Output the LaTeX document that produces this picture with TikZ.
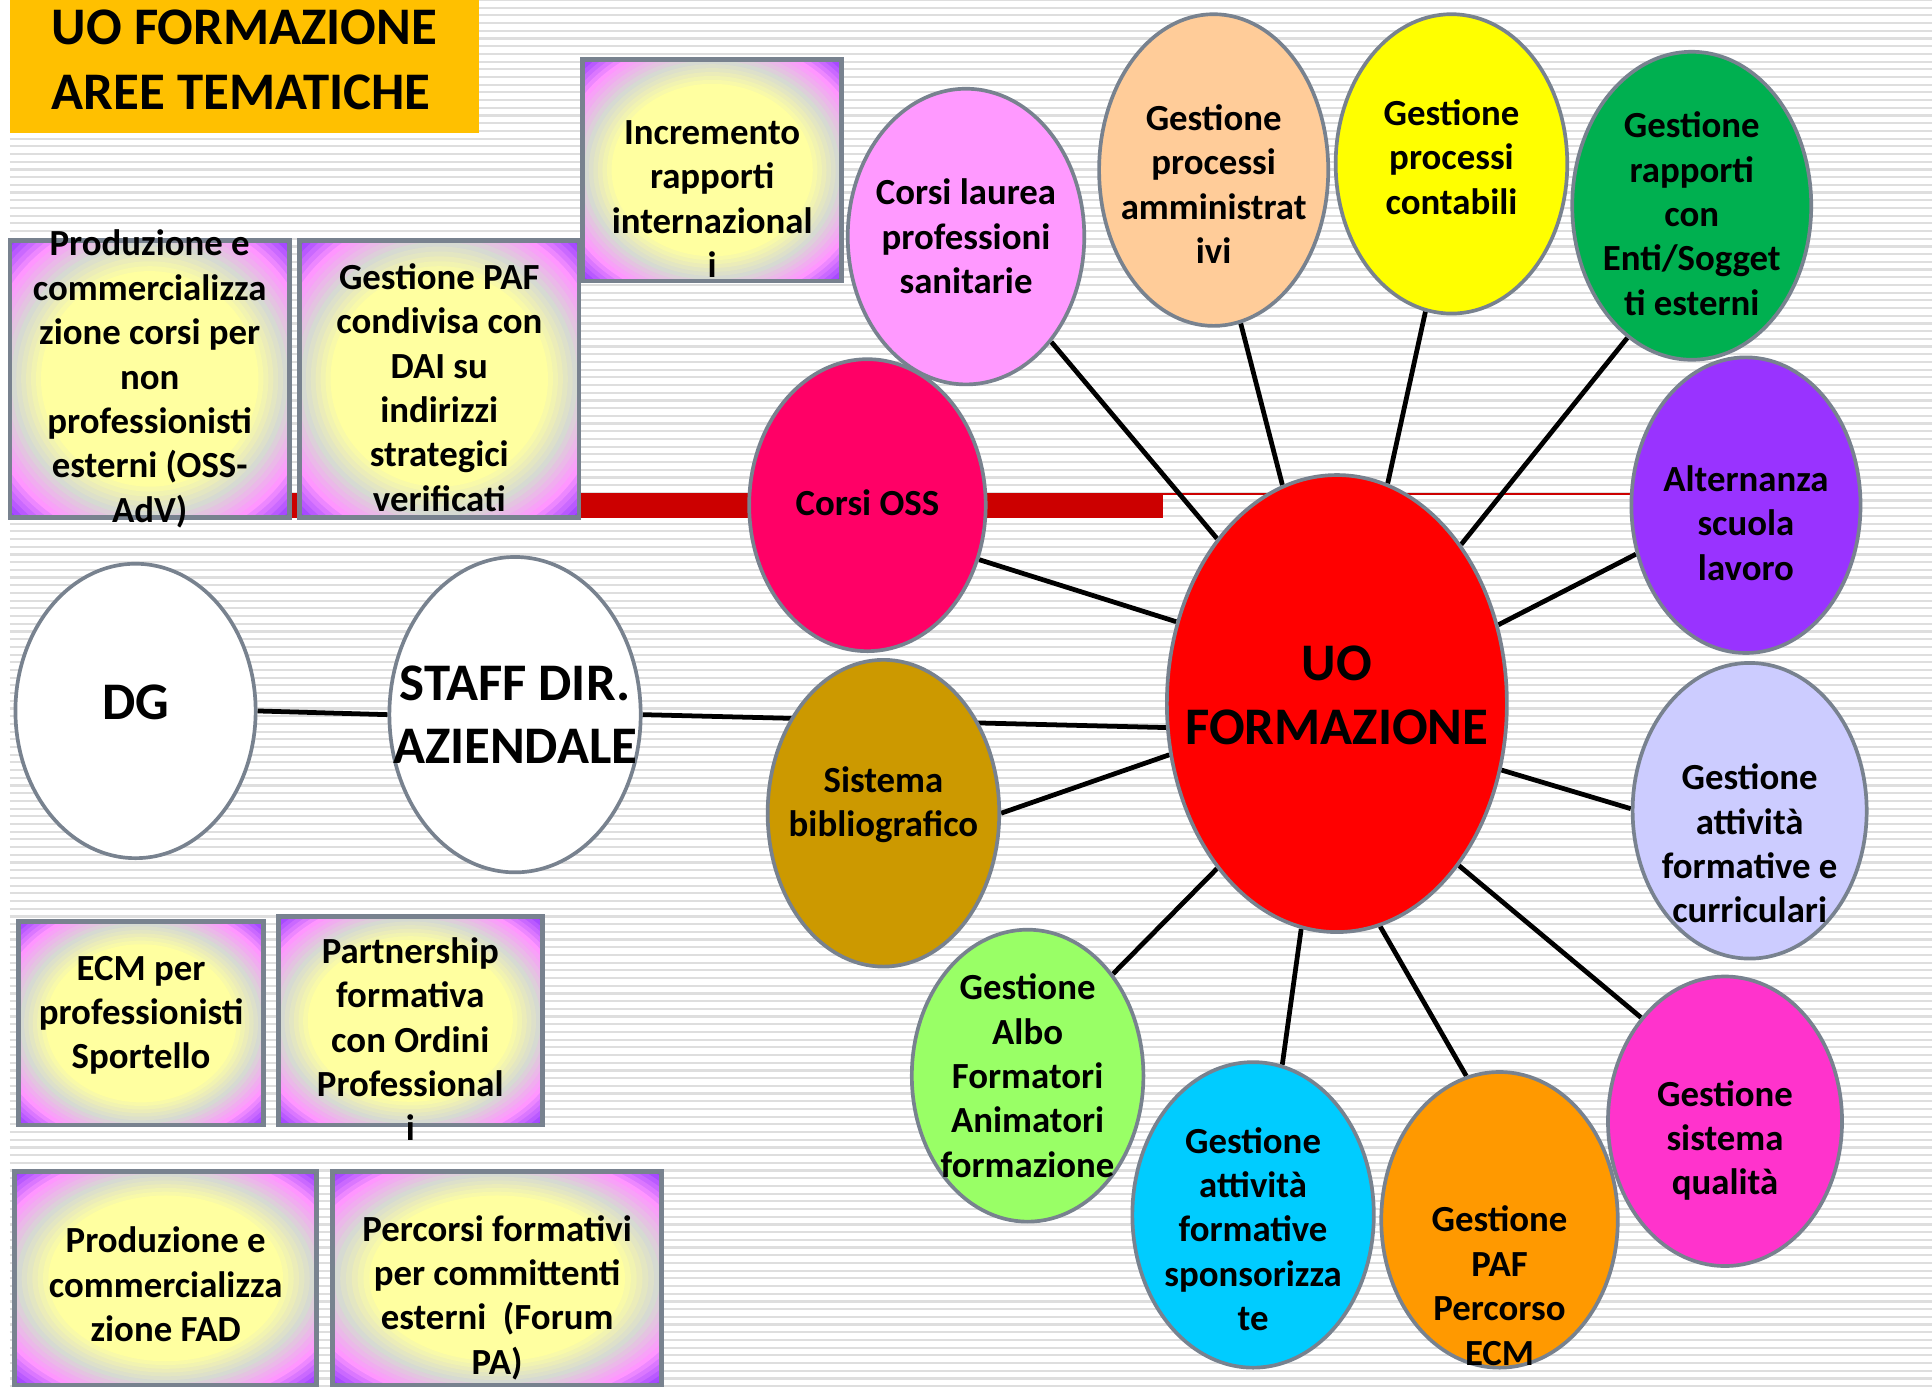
\documentclass[tikz,border=0pt]{standalone}
\usepackage{fontspec}
\setmainfont{Carlito}
\usetikzlibrary{shapes.geometric,backgrounds,calc}

\definecolor{rim}{RGB}{120,130,143}
\definecolor{stripe}{RGB}{222,222,222}
\definecolor{barred}{RGB}{204,0,0}
\definecolor{titlegold}{RGB}{255,192,0}
\definecolor{glowin}{RGB}{255,255,160}
\definecolor{glowmid}{RGB}{214,218,210}
\definecolor{glowpink}{RGB}{255,150,255}
\definecolor{glowout}{RGB}{150,60,255}
\definecolor{cLaurea}{RGB}{255,153,255}
\definecolor{cAmm}{RGB}{255,204,153}
\definecolor{cContab}{RGB}{255,255,0}
\definecolor{cRapp}{RGB}{0,176,80}
\definecolor{cOss}{RGB}{255,0,102}
\definecolor{cAltern}{RGB}{153,51,255}
\definecolor{cUo}{RGB}{255,0,0}
\definecolor{cBiblio}{RGB}{204,153,0}
\definecolor{cCurric}{RGB}{204,204,255}
\definecolor{cAlbo}{RGB}{153,255,102}
\definecolor{cSpons}{RGB}{0,204,255}
\definecolor{cEcm}{RGB}{255,153,0}
\definecolor{cQual}{RGB}{255,51,204}

\begin{document}
\begin{tikzpicture}[x=0.02cm,y=-0.02cm,
  bubble/.style={ellipse,draw=rim,line width=1.7pt,inner sep=0pt},
  % violet corners, pink, grey at the edges, yellow middle
  areabox/.style={rectangle,draw=rim,line width=2.2pt,inner sep=0pt,
    path picture={
      \foreach \a/\b/\lo in {glowpink/glowout/0.85,glowmid/glowpink/0.70,glowin/glowmid/0.55}
        \foreach \k in {0,...,5} {
          \pgfmathsetmacro\s{\lo+0.15-0.025*\k}
          \pgfmathtruncatemacro\mixp{\k*100/6}
          \fill[\a!\mixp!\b] let \p1=($(path picture bounding box.north east)-(path picture bounding box.center)$)
            in (path picture bounding box.center) ellipse ({1.4142*\s*\x1} and {1.4142*\s*\y1});
        }
      \fill[glowin] let \p1=($(path picture bounding box.north east)-(path picture bounding box.center)$)
        in (path picture bounding box.center) ellipse ({1.4142*0.55*\x1} and {1.4142*0.55*\y1});
    }},
  txt/.style={font=\bfseries\fontsize{17}{20.5}\selectfont,align=center,inner sep=0pt},
  bigtxt/.style={font=\bfseries\fontsize{24.4}{29.5}\selectfont,align=center,inner sep=0pt},
  wire/.style={line width=2.2pt}]
  \useasboundingbox (0,0) rectangle (1568,1126);

  % title
  \node[rectangle,fill=titlegold,minimum width=7.62cm,minimum height=2.38cm,align=left,inner sep=0pt,font=\bfseries\fontsize{24.4}{30}\selectfont] (title) at (198.5,48.5) {UO FORMAZIONE\\AREE TEMATICHE};

  % aree tematiche
  \node[areabox,minimum width=4.20cm,minimum height=3.60cm,label={[txt,yshift=-0.47cm]center:Incremento\\rapporti\\internazional\\i}] (intl) at (578,138) {};
  \node[areabox,minimum width=4.54cm,minimum height=4.50cm,label={[txt]center:Produzione e\\commercializza\\zione corsi per\\non\\professionisti\\esterni (OSS-\\AdV)}] (ossadv) at (121.5,307.5) {};
  \node[areabox,minimum width=4.54cm,minimum height=4.50cm,label={[txt,yshift=-0.14cm]center:Gestione PAF\\condivisa con\\DAI su\\indirizzi\\strategici\\verificati}] (pafdai) at (356.5,307.5) {};
  \node[areabox,minimum width=3.98cm,minimum height=3.30cm,label={[txt,yshift=0.13cm]center:ECM per\\professionisti\\Sportello}] (sportello) at (114.5,830.5) {};
  \node[areabox,minimum width=4.28cm,minimum height=3.38cm,label={[txt,yshift=-0.30cm]center:Partnership\\formativa\\con Ordini\\Professional\\i}] (ordini) at (333,828.5) {};
  \node[areabox,minimum width=4.90cm,minimum height=3.46cm,label={[txt,yshift=-0.10cm]center:Produzione e\\commercializza\\zione FAD}] (fad) at (134.5,1037.5) {};
  \node[areabox,minimum width=5.34cm,minimum height=3.46cm,label={[txt,yshift=-0.31cm]center:Percorsi formativi\\per committenti\\esterni~~(Forum\\PA)}] (forumpa) at (403.5,1037.5) {};

  % direzione
  \node[bubble,fill=white,minimum width=3.90cm,minimum height=4.78cm,label={[bigtxt,yshift=0.14cm]center:DG}] (dg) at (110,577) {};
  \node[bubble,fill=white,minimum width=4.08cm,minimum height=5.12cm,label={[bigtxt]center:STAFF DIR.\\AZIENDALE}] (staff) at (418,580) {};

  % UO e funzioni
  \node[bubble,fill=cUo,minimum width=5.52cm,minimum height=7.42cm,label={[bigtxt,yshift=0.14cm]center:UO\\FORMAZIONE}] (uo) at (1085,571) {};
  \node[bubble,fill=cLaurea,minimum width=3.84cm,minimum height=4.80cm,label={[txt]center:Corsi laurea\\professioni\\sanitarie}] (laurea) at (784,192) {};
  \node[bubble,fill=cAmm,minimum width=3.72cm,minimum height=5.06cm,label={[txt,yshift=-0.23cm]center:Gestione\\processi\\amministrat\\ivi}] (amm) at (985,138) {};
  \node[bubble,fill=cContab,minimum width=3.76cm,minimum height=4.86cm,label={[txt,yshift=0.11cm]center:Gestione\\processi\\contabili}] (contab) at (1178,133) {};
  \node[bubble,fill=cRapp,minimum width=3.88cm,minimum height=5.00cm,label={[txt,yshift=-0.13cm]center:Gestione\\rapporti\\con\\Enti/Sogget\\ti esterni}] (enti) at (1373,167) {};
  \node[bubble,fill=cOss,minimum width=3.84cm,minimum height=4.74cm,label={[txt,yshift=0.04cm]center:Corsi OSS}] (oss) at (704,410) {};
  \node[bubble,fill=cAltern,minimum width=3.72cm,minimum height=4.80cm,label={[txt,yshift=-0.29cm]center:Alternanza\\scuola\\lavoro}] (altern) at (1417,410) {};
  \node[bubble,fill=cBiblio,minimum width=3.76cm,minimum height=4.98cm,label={[txt,yshift=0.14cm]center:Sistema\\bibliografico}] (biblio) at (717,660) {};
  \node[bubble,fill=cCurric,minimum width=3.80cm,minimum height=4.80cm,label={[txt,yshift=-0.53cm]center:Gestione\\attività\\formative e\\curriculari}] (curric) at (1420,658) {};
  \node[bubble,fill=cAlbo,minimum width=3.76cm,minimum height=4.74cm,label={[txt]center:Gestione\\Albo\\Formatori\\Animatori\\formazione}] (albo) at (834,873) {};
  \node[bubble,fill=cSpons,minimum width=3.92cm,minimum height=4.96cm,label={[txt,yshift=-0.23cm]center:Gestione\\attività\\formative\\sponsorizza\\te}] (spons) at (1017,986) {};
  \node[bubble,fill=cEcm,minimum width=3.84cm,minimum height=4.80cm,label={[txt,yshift=-1.07cm]center:Gestione\\PAF\\Percorso\\ECM}] (ecm) at (1217,990) {};
  \node[bubble,fill=cQual,minimum width=3.80cm,minimum height=4.70cm,label={[txt,yshift=-0.31cm]center:Gestione\\sistema\\qualità}] (qual) at (1400,910) {};

  \begin{scope}[on background layer]
    \fill[white] (0,0) rectangle (1568,1126);
    \foreach \k in {0,...,180}
      \draw[stripe,line width=1pt] (8,\k*6.25) -- (1568,\k*6.25);
    \fill[barred] (230,400) rectangle (944,420);
    \draw[barred,line width=0.85pt] (944,401) -- (1330,401);
    % collegamenti
    \draw[wire] (dg.0) -- (staff.180);
    \draw[wire] (staff.0) -- (uo.-172.5);
    \draw[wire] (uo.126.5) -- (laurea.-51);
    \draw[wire] (uo.104) -- (amm.-80);
    \draw[wire] (uo.77) -- (contab.-100);
    \draw[wire] (uo.52.6) -- (enti.-116);
    \draw[wire] (uo.26.6) -- (altern.204);
    \draw[wire] (uo.-22) -- (curric.179.4);
    \draw[wire] (uo.-53) -- (qual.129.6);
    \draw[wire] (uo.-79) -- (ecm.103.5);
    \draw[wire] (uo.-99) -- (spons.79.3);
    \draw[wire] (uo.-126.3) -- (albo.50.7);
    \draw[wire] (uo.-163.3) -- (biblio.0.6);
    \draw[wire] (uo.153.8) -- (oss.-26.6);
  \end{scope}
\end{tikzpicture}
\end{document}
